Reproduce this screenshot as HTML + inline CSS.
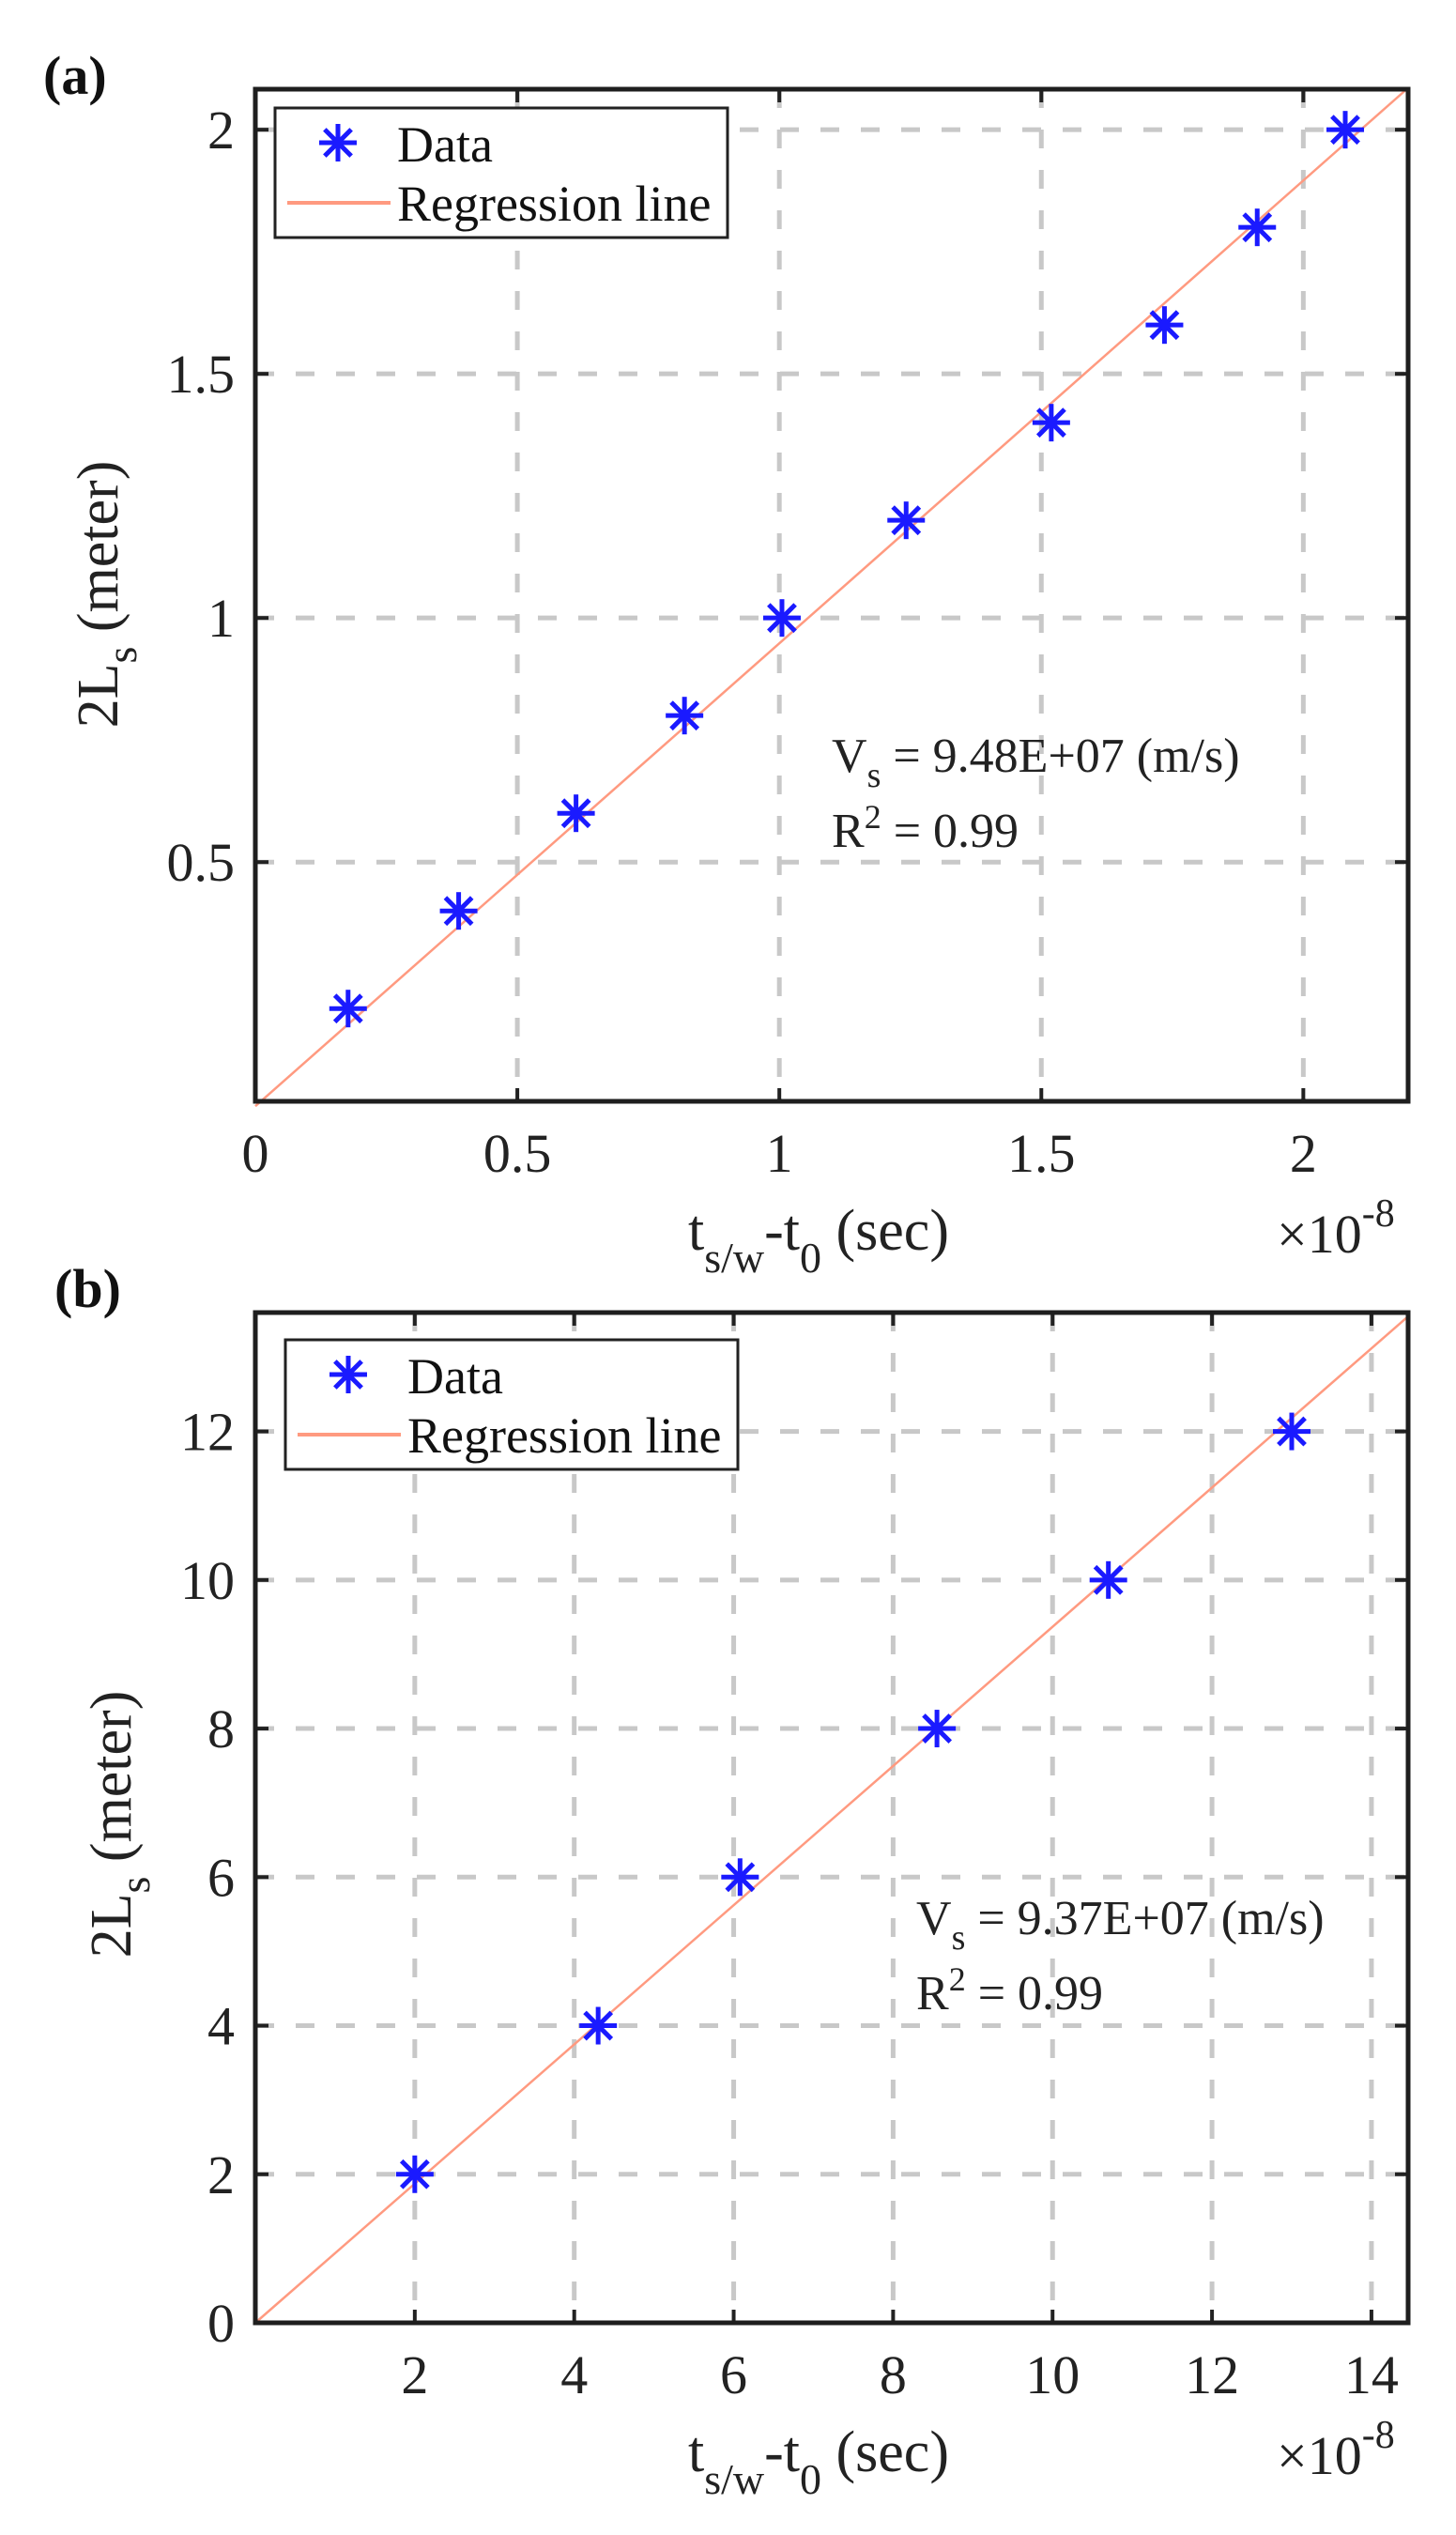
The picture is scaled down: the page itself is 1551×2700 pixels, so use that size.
<!DOCTYPE html>
<html><head><meta charset="utf-8"><style>
html,body{margin:0;padding:0;background:#fff;}
svg{display:block;}
svg text{font-family:"Liberation Serif","DejaVu Serif",serif;}
</style></head><body>
<svg id="fig" width="1551" height="2700" viewBox="0 0 1551 2700" xmlns="http://www.w3.org/2000/svg" font-family="Liberation Serif, serif">
<rect width="1551" height="2700" fill="#fff"/>
</svg>
<script>
// Panel (a) data
const aTimes = [0.177, 0.388, 0.612, 0.819, 1.005, 1.242, 1.519, 1.735, 1.912, 2.08];
const aLengths = [0.2, 0.4, 0.6, 0.8, 1.0, 1.2, 1.4, 1.6, 1.8, 2.0];
const aSlope = [0.948];
const aXTicks = [0, 0.5, 1, 1.5, 2];
const aXTickLabels = ["0", "0.5", "1", "1.5", "2"];
const aYTicks = [0.5, 1, 1.5, 2];
const aYTickLabels = ["0.5", "1", "1.5", "2"];
// Panel (b) data
const bTimes = [2.0, 4.3, 6.08, 8.55, 10.7, 13.0];
const bLengths = [2, 4, 6, 8, 10, 12];
const bSlope = [0.937];
const bXTicks = [2, 4, 6, 8, 10, 12, 14];
const bXTickLabels = ["2", "4", "6", "8", "10", "12", "14"];
const bYTicks = [0, 2, 4, 6, 8, 10, 12];
const bYTickLabels = ["0", "2", "4", "6", "8", "10", "12"];

const NS = "http://www.w3.org/2000/svg";
const svg = document.getElementById("fig");
const FF = '"Liberation Serif", "DejaVu Serif", serif';
function mk(tag, attrs, parent) {
  const e = document.createElementNS(NS, tag);
  for (const k in attrs) e.setAttribute(k, attrs[k]);
  if (tag === "text") e.style.fontFamily = FF;
  (parent || svg).appendChild(e);
  return e;
}

function panel(cfg) {
  const g = mk("g", {});
  
  
  const L = cfg.L, R = cfg.R, T = cfg.T, B = cfg.B;
  const sx = v => L + (v - cfg.x0) / (cfg.x1 - cfg.x0) * (R - L);
  const sy = v => B - (v - cfg.y0) / (cfg.y1 - cfg.y0) * (B - T);
  cfg.xTicks.forEach(v => {
    const l = mk("line", {x1: sx(v), x2: sx(v), y1: T, y2: B, stroke: "#c8c8c8", "stroke-width": 5, "stroke-dasharray": "20 23"}, g);
    
    
  });
  cfg.yTicks.forEach(v => {
    const l = mk("line", {x1: L, x2: R, y1: sy(v), y2: sy(v), stroke: "#c8c8c8", "stroke-width": 5, "stroke-dasharray": "20 23"}, g);
    
    
  });
  const xEnd = Math.min(cfg.x1, cfg.y1 / cfg.slope);
  const reg = mk("line", {x1: sx(0), y1: sy(0), x2: sx(xEnd), y2: sy(cfg.slope * xEnd), stroke: "#ff9a80", "stroke-width": 2.5}, g);
  
  
  cfg.xs.forEach((xv, i) => {
    const cx = sx(xv), cy = sy(cfg.ys[i]);
    const m = mk("g", {stroke: "#1a1aff", "stroke-width": 5}, g);
    
    
    star(m, cx, cy, 20);
  });
  cfg.xTicks.forEach(v => {
    mk("line", {x1: sx(v), x2: sx(v), y1: B, y2: B - 14, stroke: "#222", "stroke-width": 4}, g);
    mk("line", {x1: sx(v), x2: sx(v), y1: T, y2: T + 14, stroke: "#222", "stroke-width": 4}, g);
  });
  cfg.yTicks.forEach(v => {
    mk("line", {x1: L, x2: L + 14, y1: sy(v), y2: sy(v), stroke: "#222", "stroke-width": 4}, g);
    mk("line", {x1: R, x2: R - 14, y1: sy(v), y2: sy(v), stroke: "#222", "stroke-width": 4}, g);
  });
  const frame = mk("rect", {x: L, y: T, width: R - L, height: B - T, fill: "none", stroke: "#1e1e1e", "stroke-width": 5}, g);
  
  
  cfg.xTicks.forEach((v, i) => {
    const t = mk("text", {x: sx(v), y: B + 75, "font-size": 58, "text-anchor": "middle", fill: "#222"}, g);
    t.textContent = cfg.xLabels[i];
    
    
  });
  cfg.yTicks.forEach((v, i) => {
    const t = mk("text", {x: L - 22, y: sy(v) + 20, "font-size": 58, "text-anchor": "end", fill: "#222"}, g);
    t.textContent = cfg.yLabels[i];
    
    
  });
  const xt = mk("text", {x: 733, y: B + 158, "font-size": 62, fill: "#222"}, g);
  
  
  xt.innerHTML = '<tspan>t</tspan><tspan dy="24" font-size="46">s/w</tspan><tspan dy="-24">-t</tspan><tspan dy="24" font-size="46">0</tspan><tspan dy="-24"> (sec)</tspan>';
  const ex = mk("text", {x: 1360, y: B + 161, "font-size": 58, fill: "#222"}, g);
  
  
  ex.innerHTML = '×10<tspan dy="-28" font-size="42">-8</tspan>';
  const yt = mk("text", {x: 0, y: 0, "font-size": 62, "text-anchor": "middle", fill: "#222", transform: `translate(${cfg.ylx},${cfg.yly}) rotate(-90)`}, g);
  
  
  yt.innerHTML = '2L<tspan dy="20" font-size="46">s</tspan><tspan dy="-20"> (meter)</tspan>';
  const lg = mk("g", {}, g);
  
  
  mk("rect", {x: cfg.lgx, y: cfg.lgy, width: 482, height: 138, fill: "#fff", stroke: "#222", "stroke-width": 3}, lg);
  const ls = mk("g", {stroke: "#1a1aff", "stroke-width": 5}, lg);
  
  
  star(ls, cfg.lgx + 67, cfg.lgy + 37, 20);
  const ll = mk("line", {x1: cfg.lgx + 13, x2: cfg.lgx + 123, y1: cfg.lgy + 101, y2: cfg.lgy + 101, stroke: "#ff9a80", "stroke-width": 4}, lg);
  
  
  const t1 = mk("text", {x: cfg.lgx + 130, y: cfg.lgy + 57, "font-size": 54, fill: "#111"}, lg);
  t1.textContent = "Data";
  
  
  const t2 = mk("text", {x: cfg.lgx + 130, y: cfg.lgy + 120, "font-size": 54, fill: "#111"}, lg);
  t2.textContent = "Regression line";
  
  
  const a1 = mk("text", {x: cfg.anx, y: cfg.any, "font-size": 52, fill: "#222"}, g);
  
  
  a1.innerHTML = 'V<tspan dy="16" font-size="38">s</tspan><tspan dy="-16"> = ' + cfg.vtext + ' (m/s)</tspan>';
  const a2 = mk("text", {x: cfg.anx, y: cfg.any + 80, "font-size": 52, fill: "#222"}, g);
  
  
  a2.innerHTML = 'R<tspan dy="-20" font-size="36">2</tspan><tspan dy="20"> = 0.99</tspan>';
  const pl = mk("text", {x: cfg.plx, y: cfg.ply, "font-size": 58, "font-weight": "bold", fill: "#111"}, g);
  pl.textContent = cfg.label;
  
  
}
function star(p, cx, cy, r) {
  for (let k = 0; k < 4; k++) {
    const a = k * Math.PI / 4;
    mk("line", {x1: cx - r * Math.cos(a), y1: cy - r * Math.sin(a), x2: cx + r * Math.cos(a), y2: cy + r * Math.sin(a)}, p);
  }
}

panel({name: "panel-a", L: 272, R: 1500, T: 95, B: 1173, x0: 0, x1: 2.20, y0: 0.01, y1: 2.083,
  xs: aTimes, ys: aLengths, slope: aSlope[0], xTicks: aXTicks, xLabels: aXTickLabels, yTicks: aYTicks, yLabels: aYTickLabels,
  ylx: 125, yly: 633, lgx: 293, lgy: 115, anx: 886, any: 822, vtext: "9.48E+07", label: "(a)", plx: 46, ply: 100});
panel({name: "panel-b", L: 272, R: 1500, T: 1398, B: 2474, x0: 0, x1: 14.46, y0: 0, y1: 13.6,
  xs: bTimes, ys: bLengths, slope: bSlope[0], xTicks: bXTicks, xLabels: bXTickLabels, yTicks: bYTicks, yLabels: bYTickLabels,
  ylx: 139, yly: 1943, lgx: 304, lgy: 1427, anx: 976, any: 2060, vtext: "9.37E+07", label: "(b)", plx: 58, ply: 1392});
</script>
</body></html>
